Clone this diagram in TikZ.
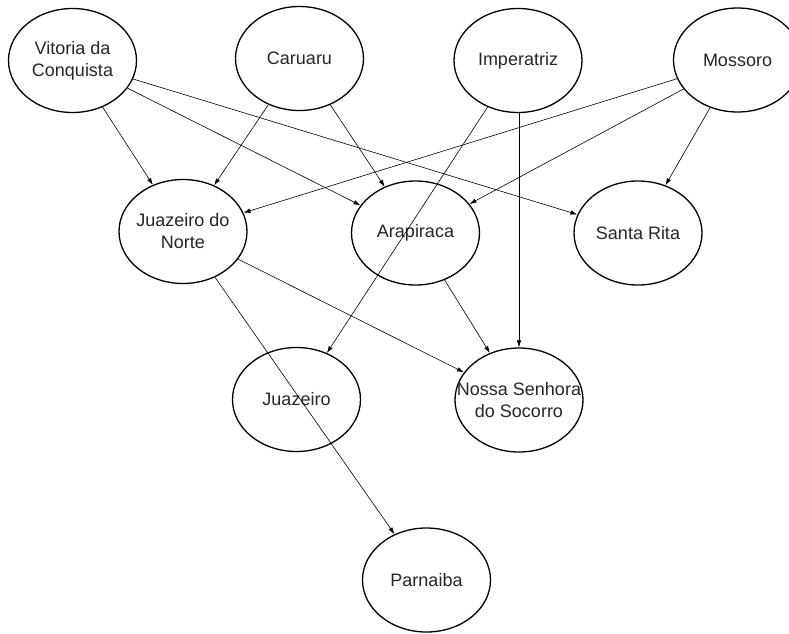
\documentclass[tikz,border=0pt]{standalone}
\usepackage{fontspec}
\setmainfont{Liberation Sans}
\usetikzlibrary{shapes.geometric,arrows.meta}
\begin{document}
\begin{tikzpicture}[x=1pt,y=-1pt,
	city/.style={draw,ellipse,line width=1.3pt,minimum width=128pt,minimum height=104pt,inner sep=0},
	cityname/.style={font=\fontsize{18}{22}\selectfont,align=center,text=black!85,inner sep=0},
	edge/.style={line width=0.6pt,-{Latex[length=7pt,width=4.5pt]}}]
	\useasboundingbox (0,0) rectangle (789,633);
	\clip (0,0) rectangle (789,633);
	% top row
	\node[city,label={[cityname]center:{Vitoria da\\Conquista}}] (vit) at (72.5,60.5) {};
	\node[city,label={[cityname]center:Caruaru}] (car) at (299.5,58.5) {};
	\node[city,label={[cityname]center:Imperatriz}] (imp) at (518,60.5) {};
	\node[city,label={[cityname]center:Mossoro}] (mos) at (737.5,60) {};
	% middle row
	\node[city,label={[cityname]center:{Juazeiro do\\Norte}}] (jdn) at (183,231.5) {};
	\node[city,label={[cityname]center:Arapiraca}] (ara) at (415.5,233) {};
	\node[city,label={[cityname]center:Santa Rita}] (sri) at (638,233) {};
	% lower rows
	\node[city,label={[cityname]center:Juazeiro}] (jua) at (296.5,399.5) {};
	\node[city,label={[cityname]center:{Nossa Senhora\\do Socorro}}] (nss) at (519,400) {};
	\node[city,label={[cityname]center:Parnaiba}] (par) at (426.5,580) {};
	% edges
	\draw[edge] (vit)--(jdn);
	\draw[edge] (vit)--(ara);
	\draw[edge] (vit)--(sri);
	\draw[edge] (car)--(jdn);
	\draw[edge] (car)--(ara);
	\draw[edge] (imp)--(jua);
	\draw[edge] (imp.south -| nss.north)--(nss.north);
	\draw[edge] (mos)--(jdn);
	\draw[edge] (mos)--(ara);
	\draw[edge] (mos)--(sri);
	\draw[edge] (jdn)--(par);
	\draw[edge] (jdn)--(nss);
	\draw[edge] (ara)--(nss);
\end{tikzpicture}
\end{document}
